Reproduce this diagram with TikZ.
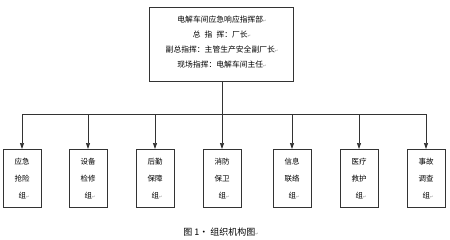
\documentclass[tikz,border=0pt]{standalone}
\usepackage{fontspec}
\setmainfont{Noto Sans CJK SC}
\newfontfamily\symfont{DejaVu Sans}
\usetikzlibrary{arrows.meta}
\newcommand{\pmark}{{\symfont\fontsize{4}{4}\selectfont\color{black!45}↵}}
\tikzset{
  x=1pt,y=-1pt,
  line/.style={draw=black!80,line width=0.7pt},
  arr/.style={line,-{Triangle[length=6pt,width=4pt]}},
  grpbox/.style={line,minimum width=38pt,minimum height=58pt,anchor=north,inner sep=0pt},
  txt/.style={font=\fontsize{7.8}{7.8}\selectfont,inner sep=0pt},
  gtxt/.style={font=\fontsize{7.5}{7.5}\selectfont,inner sep=0pt},
}
\begin{document}
\begin{tikzpicture}
\useasboundingbox (0,0) rectangle (450,239);
\node[line,minimum width=144pt,minimum height=74pt,anchor=north west,inner sep=0pt] (top) at (149,7) {};
\node[txt] (t1) at (222,20) {电解车间应急响应指挥部\pmark};
\node[txt] (t2) at (222,35) {总\hspace{4pt}指\hspace{4pt}挥：厂长\pmark};
\node[txt] (t3) at (222,50) {副总指挥：主管生产安全副厂长\pmark};
\node[txt] (t4) at (222,65) {现场指挥：电解车间主任\pmark};
\coordinate (j) at (222,114);
\draw[line] (top.south -| j) -- (j);
\coordinate (hl) at (22,114);
\coordinate (hr) at (426,114);
\draw[line] (hl) -- (hr);
\foreach \i/\x/\a/\b in {1/22/应急/抢险,2/88/设备/检修,3/155/后勤/保障,4/222/消防/保卫,5/292/信息/联络,6/359/医疗/救护,7/426/事故/调查}{
  \node[grpbox] (g\i) at (\x,149) {};
  \coordinate (c\i) at (\x,114);
  \draw[arr] (c\i) -- (g\i.north);
  \node[gtxt] (ga\i) at (\x,162) {\a};
  \node[gtxt] (gb\i) at (\x,179) {\b};
  \node[gtxt] (gc\i) at (\x+2,196) {组\pmark};
}
\node[font=\fontsize{9}{9}\selectfont,inner sep=0pt] (cap) at (221,232) {图 1· 组织机构图\pmark};
\end{tikzpicture}
\end{document}
